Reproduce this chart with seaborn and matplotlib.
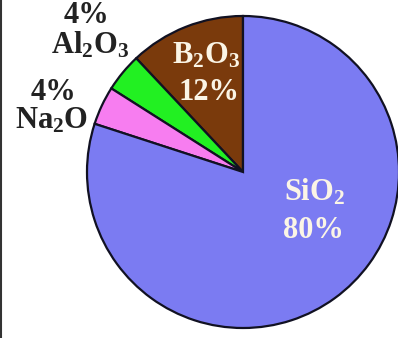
import matplotlib
matplotlib.use("Agg")
import matplotlib.pyplot as plt
import seaborn as sns
from matplotlib.lines import Line2D

# --- data ---
components = ["B2O3", "Al2O3", "Na2O", "SiO2"]
shares = [12, 4, 4, 80]
names = [r"$\mathrm{B_2O_3}$", r"$\mathrm{Al_2O_3}$", r"$\mathrm{Na_2O}$", r"$\mathrm{SiO_2}$"]
colors = ["#7a3a0c", "#22f022", "#f77df0", "#7b7bf2"]

sns.set_theme(style="white")
plt.rcParams["font.family"] = ["Liberation Serif", "DejaVu Serif"]
plt.rcParams["font.weight"] = "bold"
plt.rcParams["mathtext.fontset"] = "custom"
plt.rcParams["mathtext.rm"] = "Liberation Serif:bold"
plt.rcParams["mathtext.it"] = "Liberation Serif:bold"
plt.rcParams["mathtext.bf"] = "Liberation Serif:bold"

W, H = 398, 338
cx, cy, r = 243, 172, 156  # pie centre / radius in pixels


def to_data(px, py):
    return (px - cx) / r, (cy - py) / r


fig = plt.figure(figsize=(W / 100, H / 100), dpi=100)
ax = fig.add_axes([0, 0, 1, 1])
ax.pie(shares, colors=colors, startangle=90, counterclock=True, radius=1,
       wedgeprops=dict(edgecolor="#111122", linewidth=1.6))
ax.set_aspect("auto")
ax.set_xlim(-cx / r, (W - cx) / r)
ax.set_ylim(-(H - cy) / r, cy / r)
ax.axis("off")

dark = "#222222"
light = "#fbf5e6"
fs = 22
# (text, centre x px, baseline y px, colour)
labels = [
    ("4%", 86, 23, dark),
    (names[1], 90, 53, dark),
    ("4%", 53, 100, dark),
    (names[2], 52, 128, dark),
    (names[0], 206, 63, light),
    ("12%", 209, 100, light),
    (names[3], 315, 200, light),
    ("80%", 313, 238, light),
]
for txt, px, py, c in labels:
    x, y = to_data(px, py)
    ax.text(x, y, txt, ha="center", va="baseline", fontsize=fs,
            fontweight="bold", color=c)

# left frame edge
fig.add_artist(Line2D([0.002, 0.002], [0, 1], transform=fig.transFigure,
                      color="#333333", linewidth=1.5))

fig.savefig("out.png", dpi=100)
